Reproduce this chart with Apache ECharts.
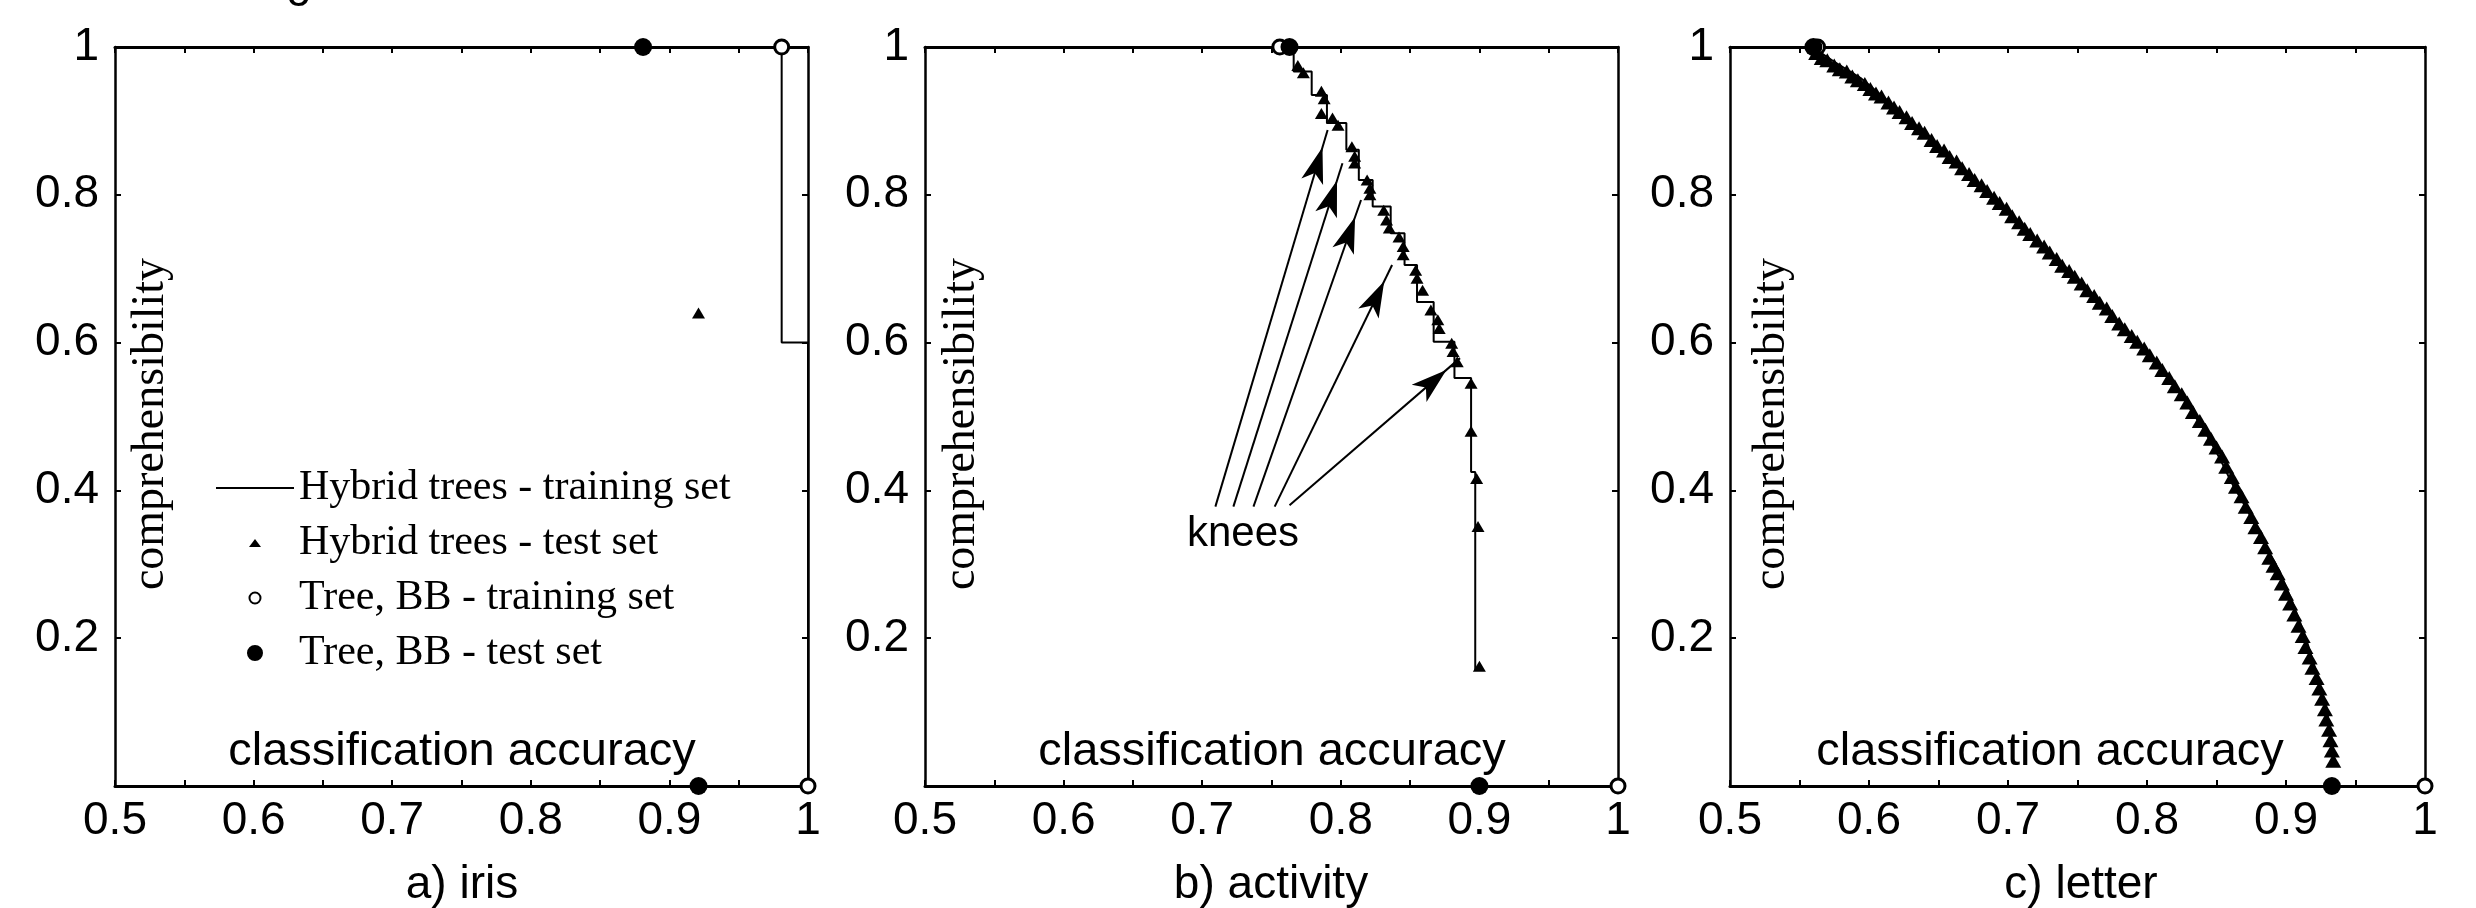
<!DOCTYPE html>
<html>
<head>
<meta charset="utf-8">
<title>Hybrid trees - accuracy vs comprehensibility</title>
<script src="https://cdn.jsdelivr.net/npm/echarts@6/dist/echarts.min.js"></script>
<style>
html, body { margin: 0; padding: 0; background: #fff; }
#chart { width: 2476px; height: 908px; }
</style>
</head>
<body>
<div id="chart"></div>
<script>
// tick labels
var xTicks = ['0.5', '0.6', '0.7', '0.8', '0.9', '1']
var yTicks = ['0.2', '0.4', '0.6', '0.8', '1']
var seriesNames = ['Hybrid trees - training set', 'Hybrid trees - test set', 'Tree, BB - training set', 'Tree, BB - test set']
var panelTitles = ['a) iris', 'b) activity', 'c) letter']

// a) iris
var irisTrainAcc = [0.981, 1.0, 1.0]
var irisTrainComp = [1.0, 0.6, 0.0]
var irisTestAcc = [0.921]
var irisTestComp = [0.640]
var irisTreeTrainAcc = [0.981, 1.0]
var irisTreeTrainComp = [1, 0]
var irisTreeTestAcc = [0.881, 0.921]
var irisTreeTestComp = [1, 0]

// b) activity
var actTrainAcc = [0.766, 0.779, 0.790, 0.804, 0.813, 0.823, 0.836, 0.846, 0.855, 0.867, 0.882, 0.894, 0.897, 0.897]
var actTrainComp = [1.0, 0.967, 0.935, 0.897, 0.861, 0.820, 0.784, 0.748, 0.705, 0.655, 0.601, 0.552, 0.425, 0.157]
var actTestAcc = [0.769, 0.773, 0.786, 0.788, 0.786, 0.794, 0.798, 0.808, 0.810, 0.810, 0.819, 0.821, 0.821, 0.831, 0.833, 0.835, 0.842, 0.845, 0.845, 0.854, 0.855, 0.859, 0.865, 0.870, 0.871, 0.880, 0.881, 0.884, 0.894, 0.894, 0.898, 0.899, 0.900]
var actTestComp = [0.975, 0.965, 0.940, 0.930, 0.910, 0.904, 0.894, 0.865, 0.852, 0.843, 0.820, 0.809, 0.800, 0.779, 0.766, 0.755, 0.743, 0.730, 0.719, 0.698, 0.687, 0.671, 0.644, 0.631, 0.619, 0.599, 0.588, 0.574, 0.545, 0.480, 0.416, 0.351, 0.162]
var actTreeTrainAcc = [0.756, 1.0]
var actTreeTrainComp = [1, 0]
var actTreeTestAcc = [0.763, 0.900]
var actTreeTestComp = [1, 0]

// c) letter
var letTrainAcc = [0.561, 0.563, 0.575, 0.594, 0.613, 0.632, 0.651, 0.670, 0.689, 0.708, 0.727, 0.746, 0.765, 0.784, 0.803, 0.822, 0.841, 0.853, 0.861, 0.872, 0.883, 0.895, 0.904, 0.914, 0.922, 0.929, 0.933, 0.935]
var letTrainComp = [1.0, 0.995, 0.980, 0.958, 0.928, 0.897, 0.861, 0.829, 0.798, 0.761, 0.728, 0.694, 0.658, 0.617, 0.581, 0.536, 0.482, 0.441, 0.410, 0.374, 0.333, 0.292, 0.252, 0.202, 0.153, 0.107, 0.062, 0.033]
var letTestAcc = [0.562, 0.566, 0.570, 0.575, 0.579, 0.584, 0.588, 0.592, 0.597, 0.601, 0.605, 0.609, 0.614, 0.618, 0.622, 0.627, 0.631, 0.636, 0.640, 0.645, 0.649, 0.654, 0.658, 0.663, 0.667, 0.672, 0.676, 0.681, 0.685, 0.690, 0.694, 0.699, 0.703, 0.708, 0.712, 0.716, 0.721, 0.726, 0.730, 0.735, 0.739, 0.744, 0.748, 0.753, 0.757, 0.762, 0.766, 0.771, 0.775, 0.780, 0.784, 0.789, 0.793, 0.798, 0.802, 0.807, 0.811, 0.816, 0.820, 0.825, 0.829, 0.833, 0.838, 0.842, 0.846, 0.850, 0.854, 0.857, 0.861, 0.864, 0.868, 0.871, 0.875, 0.878, 0.882, 0.885, 0.888, 0.891, 0.894, 0.897, 0.900, 0.903, 0.906, 0.909, 0.912, 0.914, 0.917, 0.919, 0.922, 0.924, 0.926, 0.928, 0.929, 0.931, 0.932, 0.933, 0.934]
var letTestComp = [0.992, 0.985, 0.982, 0.975, 0.970, 0.967, 0.960, 0.955, 0.950, 0.943, 0.937, 0.933, 0.925, 0.918, 0.912, 0.905, 0.897, 0.890, 0.884, 0.874, 0.866, 0.860, 0.851, 0.845, 0.836, 0.828, 0.820, 0.813, 0.805, 0.796, 0.789, 0.781, 0.771, 0.763, 0.754, 0.747, 0.738, 0.730, 0.722, 0.713, 0.704, 0.697, 0.689, 0.680, 0.671, 0.663, 0.654, 0.646, 0.636, 0.626, 0.618, 0.609, 0.601, 0.592, 0.583, 0.573, 0.563, 0.552, 0.541, 0.530, 0.519, 0.506, 0.494, 0.482, 0.470, 0.458, 0.446, 0.432, 0.418, 0.405, 0.392, 0.378, 0.364, 0.350, 0.337, 0.323, 0.309, 0.298, 0.288, 0.274, 0.260, 0.247, 0.232, 0.217, 0.203, 0.188, 0.174, 0.160, 0.146, 0.132, 0.118, 0.104, 0.090, 0.076, 0.062, 0.048, 0.034]
var letTreeTrainAcc = [0.563, 1.0]
var letTreeTrainComp = [1, 0]
var letTreeTestAcc = [0.560, 0.933]
var letTreeTestComp = [1, 0]

// "knees" arrows in panel b (tail -> head, data units)
var kneeTailAcc = [0.7095, 0.7225, 0.737, 0.7523, 0.763]
var kneeTailComp = [0.378, 0.378, 0.378, 0.378, 0.380]
var kneeHeadAcc = [0.7905, 0.8012, 0.8146, 0.837, 0.886]
var kneeHeadComp = [0.8877, 0.8426, 0.793, 0.705, 0.579]

function zip(xs, ys) {
    return xs.map(function(x, i) { return [x, ys[i]] })
}

var panels = [
    { train: zip(irisTrainAcc, irisTrainComp), test: zip(irisTestAcc, irisTestComp),
      treeTrain: zip(irisTreeTrainAcc, irisTreeTrainComp), treeTest: zip(irisTreeTestAcc, irisTreeTestComp), step: 'start', tri: [13, 11] },
    { train: zip(actTrainAcc, actTrainComp), test: zip(actTestAcc, actTestComp),
      treeTrain: zip(actTreeTrainAcc, actTreeTrainComp), treeTest: zip(actTreeTestAcc, actTreeTestComp), step: 'start', tri: [13, 11] },
    { train: zip(letTrainAcc, letTrainComp), test: zip(letTestAcc, letTestComp),
      treeTrain: zip(letTreeTrainAcc, letTreeTrainComp), treeTest: zip(letTreeTestAcc, letTreeTestComp), step: false, tri: [16, 14] }
]

var gridLeft = [115, 925, 1730]
var sansFont = '"Liberation Sans", Arial, sans-serif'
var serifFont = '"Liberation Serif", "Times New Roman", serif'

function xLabel(v) {
    var s = String(+v.toFixed(2))
    return xTicks.indexOf(s) >= 0 ? s : ''
}
function yLabel(v) {
    var s = String(+v.toFixed(2))
    return yTicks.indexOf(s) >= 0 ? s : ''
}

function xAxisFor(i, pos) {
    return {
        type: 'value', gridIndex: i, position: pos, min: 0.5, max: 1, interval: 0.05,
        axisLine: { show: true, onZero: false, lineStyle: { color: '#000', width: 3 } },
        axisTick: { show: true, inside: true, length: 6, lineStyle: { color: '#000', width: 2 } },
        axisLabel: { show: pos === 'bottom', formatter: xLabel, color: '#000', fontSize: 46, fontFamily: sansFont, margin: 12 },
        splitLine: { show: false }
    }
}
function yAxisFor(i, pos) {
    return {
        type: 'value', gridIndex: i, position: pos, min: 0, max: 1, interval: 0.2,
        axisLine: { show: true, onZero: false, lineStyle: { color: '#000', width: 2.5 } },
        axisTick: { show: true, inside: true, length: 6, lineStyle: { color: '#000', width: 2 } },
        axisLabel: { show: pos === 'left', formatter: yLabel, color: '#000', fontSize: 46, fontFamily: sansFont, margin: 16 },
        splitLine: { show: false }
    }
}

var grids = []
var xAxes = []
var yAxes = []
var series = []
var graphics = []
panels.forEach(function(p, i) {
    grids.push({ left: gridLeft[i], top: 47, width: i === 2 ? 695 : 693, height: 739 })
})
panels.forEach(function(p, i) { xAxes.push(xAxisFor(i, 'bottom')) })
panels.forEach(function(p, i) { xAxes.push(xAxisFor(i, 'top')) })
panels.forEach(function(p, i) { yAxes.push(yAxisFor(i, 'left')) })
panels.forEach(function(p, i) { yAxes.push(yAxisFor(i, 'right')) })

panels.forEach(function(p, i) {
    var trainLine = {
        name: seriesNames[0], type: 'line', xAxisIndex: i, yAxisIndex: i,
        data: p.train, step: p.step, symbol: 'none', clip: false,
        itemStyle: { color: '#000' },
        lineStyle: { color: '#000', width: 2 },
        z: 3
    }
    if (i === 1) {
        trainLine.markLine = {
            silent: true,
            symbol: ['none', 'arrow'],
            lineStyle: { color: '#000', width: 2, type: 'solid', opacity: 1 },
            itemStyle: { color: '#000', opacity: 1 },
            label: { show: false },
            data: kneeTailAcc.map(function(x, k) {
                return [
                    { coord: [x, kneeTailComp[k]], symbol: 'none' },
                    { coord: [kneeHeadAcc[k], kneeHeadComp[k]], symbol: 'arrow', symbolSize: [17, 36], symbolOffset: [0, '50%'] }
                ]
            })
        }
    }
    series.push(trainLine)
    series.push({
        name: seriesNames[1], type: 'scatter', xAxisIndex: i, yAxisIndex: i,
        data: p.test, symbol: 'triangle', symbolSize: p.tri, clip: false,
        itemStyle: { color: '#000', opacity: 1 }, z: 4
    })
    series.push({
        name: seriesNames[2], type: 'scatter', xAxisIndex: i, yAxisIndex: i,
        data: p.treeTrain, symbol: 'circle', symbolSize: 14, clip: false,
        itemStyle: { color: '#fff', borderColor: '#000', borderWidth: 3, opacity: 1 }, z: 5
    })
    series.push({
        name: seriesNames[3], type: 'scatter', xAxisIndex: i, yAxisIndex: i,
        data: p.treeTest, symbol: 'circle', symbolSize: 18, clip: false,
        itemStyle: { color: '#000', opacity: 1 }, z: 6
    })
})

function txt(x, y, s, size, family, rot) {
    return {
        type: 'text', x: x, y: y, rotation: rot || 0, silent: true,
        style: { text: s, fill: '#000', fontSize: size, fontFamily: family,
            align: 'center', verticalAlign: 'middle', textAlign: 'center', textVerticalAlign: 'middle' }
    }
}
var accX = [462, 1272, 2050]
var titleX = [462, 1271, 2081]
var compX = [151, 962, 1772]
panels.forEach(function(p, i) {
    graphics.push(txt(accX[i], 752, 'classification accuracy', 47, sansFont))
    graphics.push(txt(titleX[i], 885, panelTitles[i], 46, sansFont))
    graphics.push(txt(compX[i], 424, 'comprehensibility', 46, serifFont, Math.PI / 2))
})
graphics.push(txt(1243, 534, 'knees', 42, sansFont))
// bottom of a caption letter cut off by the top edge
graphics.push({
    type: 'text', x: 299, y: 6, silent: true,
    style: { text: 'g', fill: '#000', fontSize: 46, fontFamily: sansFont, align: 'center', verticalAlign: 'bottom', textAlign: 'center', textVerticalAlign: 'bottom' }
})

var option = {
    backgroundColor: '#fff',
    animation: false,
    grid: grids,
    xAxis: xAxes,
    yAxis: yAxes,
    legend: {
        left: 211, top: 461, orient: 'vertical',
        itemWidth: 78, itemHeight: 16, itemGap: 11,
        selectedMode: false,
        textStyle: { color: '#000', fontSize: 42, fontFamily: serifFont, lineHeight: 44 },
        data: [
            { name: seriesNames[0], icon: 'path://M0,0 H78 V2 H0 Z', itemStyle: { color: '#000', borderWidth: 0, opacity: 1 } },
            { name: seriesNames[1], icon: 'path://M0,0 M0,16 M6,4 L12,12 L0,12 Z', itemStyle: { color: '#000', borderWidth: 0, opacity: 1 } },
            { name: seriesNames[2], icon: 'path://M0,0 M16,16 M8,1.5 A6.5,6.5 0 1 1 7.99,1.5 Z M8,3.5 A4.5,4.5 0 1 0 8.01,3.5 Z', itemStyle: { color: '#000', borderWidth: 0, opacity: 1 } },
            { name: seriesNames[3], icon: 'path://M0,0 M18,18 M9,0 A9,9 0 1 1 8.99,0 Z', itemStyle: { color: '#000', borderWidth: 0, opacity: 1 } }
        ]
    },
    series: series,
    graphic: graphics
}

var chart = echarts.init(document.getElementById('chart'), null, { renderer: 'canvas' })
chart.setOption(option)
</script>
</body>
</html>
